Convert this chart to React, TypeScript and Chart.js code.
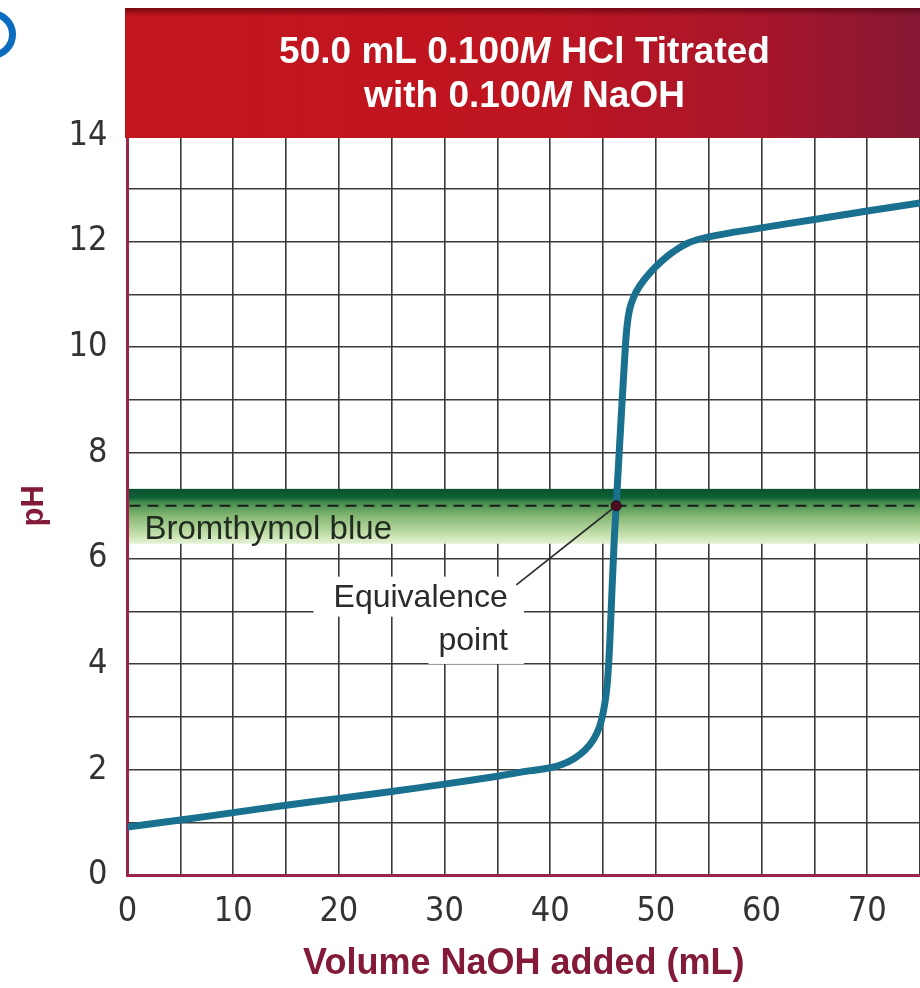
import React, { useEffect, useRef } from "react";
import { Chart, registerables } from "chart.js";

Chart.register(...registerables);

// ---------- data ----------
const volumeML = [0, 5, 10, 15, 20, 25, 30, 35, 38, 40, 41.1, 42.24, 43.28, 44.09, 44.66, 45.03, 45.29, 45.46, 45.58, 45.69, 46.05, 46.25, 46.55, 47.1, 47.25, 47.5, 47.9, 48.5, 49.4, 50.5, 51.6, 53, 55, 60, 65, 70, 75];
const pHValues = [0.92, 1.05, 1.19, 1.33, 1.46, 1.59, 1.73, 1.88, 1.98, 2.04, 2.1, 2.21, 2.37, 2.57, 2.81, 3.1, 3.42, 3.78, 4.17, 4.64, 6.3, 7.0, 8.07, 9.96, 10.35, 10.7, 10.95, 11.17, 11.4, 11.62, 11.8, 11.97, 12.09, 12.26, 12.42, 12.58, 12.73];

const xTickLabels = [0, 10, 20, 30, 40, 50, 60, 70];
const yTickLabels = [0, 2, 4, 6, 8, 10, 12, 14];

const titleLine1 = ["50.0 mL 0.100", "M", " HCl Titrated"];
const titleLine2 = ["with 0.100", "M", " NaOH"];
const xAxisTitle = "Volume NaOH added (mL)";
const yAxisTitle = "pH";

const indicatorName = "Bromthymol blue";
const indicatorRange = [6.28, 7.32];
const equivalenceLabel = ["Equivalence", "point"];
const equivalencePoint = [46.25, 7.0];

// ---------- styling ----------
const SANS = '"Liberation Sans", Arial, sans-serif';
const NARROW = '"Liberation Sans Narrow", "DejaVu Sans Condensed", sans-serif';
const MAROON = "#821a38";
const GRID = "#3a3a3a";

function drawMixed(ctx: CanvasRenderingContext2D, parts: string[], base: string, italic: string, cx: number, y: number) {
  let total = 0;
  parts.forEach((p, i) => {
    ctx.font = i === 1 ? italic : base;
    total += ctx.measureText(p).width;
  });
  let x = cx - total / 2;
  parts.forEach((p, i) => {
    ctx.font = i === 1 ? italic : base;
    ctx.fillText(p, x, y);
    x += ctx.measureText(p).width;
  });
}

const decorPlugin = {
  id: "decor",
  beforeDatasetsDraw(chart: any) {
    const { ctx, chartArea: a, scales } = chart;
    const x = scales.x;
    const y = scales.y;
    ctx.save();
    // indicator band
    const yTop = y.getPixelForValue(indicatorRange[1]);
    const yBot = y.getPixelForValue(indicatorRange[0]);
    const g = ctx.createLinearGradient(0, yTop, 0, yBot);
    g.addColorStop(0, "#0a5230");
    g.addColorStop(0.16, "#0d5f34");
    g.addColorStop(0.24, "#3f8a4c");
    g.addColorStop(0.5, "#86b874");
    g.addColorStop(0.85, "#c9e2b0");
    g.addColorStop(1, "#e6f2d8");
    ctx.fillStyle = g;
    ctx.fillRect(a.left + 1.5, yTop, a.right - a.left, yBot - yTop);

    // dashed pH 7 line
    const y7 = y.getPixelForValue(equivalencePoint[1]);
    ctx.strokeStyle = "#1a1a1a";
    ctx.lineWidth = 2;
    ctx.setLineDash([11, 7]);
    ctx.beginPath();
    ctx.moveTo(a.left + 2, y7);
    ctx.lineTo(a.right, y7);
    ctx.stroke();
    ctx.setLineDash([]);

    // indicator label
    ctx.font = "33px " + SANS;
    ctx.fillStyle = "#1e2b1e";
    ctx.textAlign = "left";
    ctx.textBaseline = "alphabetic";
    ctx.fillText(indicatorName, x.getPixelForValue(1.6), y.getPixelForValue(6.37));

    // equivalence label with white boxes
    ctx.font = "32px " + SANS;
    const rx = x.getPixelForValue(36.0);
    const b1 = y.getPixelForValue(5.09);
    const b2 = y.getPixelForValue(4.27);
    const w1 = ctx.measureText(equivalenceLabel[0]).width;
    const w2 = ctx.measureText(equivalenceLabel[1]).width;
    ctx.fillStyle = "#ffffff";
    ctx.fillRect(rx - w1 - 20, b1 - 30, w1 + 36, 40);
    ctx.fillRect(rx - w2 - 10, b1 + 8, w2 + 26, b2 - b1 + 6);
    ctx.fillStyle = "#2a2a2a";
    ctx.textAlign = "right";
    ctx.fillText(equivalenceLabel[0], rx, b1);
    ctx.fillText(equivalenceLabel[1], rx, b2);

    // leader line
    ctx.strokeStyle = "#2a2a2a";
    ctx.lineWidth = 1.6;
    ctx.beginPath();
    ctx.moveTo(x.getPixelForValue(36.8), y.getPixelForValue(5.5));
    ctx.lineTo(x.getPixelForValue(equivalencePoint[0]), y7);
    ctx.stroke();
    ctx.restore();
  },
  afterDraw(chart: any) {
    const { ctx, chartArea: a, width } = chart;
    ctx.save();
    // banner
    const left = a.left - 2.5;
    const top = 8;
    const bottom = a.top + 2;
    const g = ctx.createLinearGradient(left, 0, width, 0);
    g.addColorStop(0, "#c2161e");
    g.addColorStop(0.5, "#bf1520");
    g.addColorStop(0.8, "#a8162b");
    g.addColorStop(1, "#861834");
    ctx.fillStyle = g;
    ctx.fillRect(left, top, width - left, bottom - top);
    const gv = ctx.createLinearGradient(0, top, 0, top + 8);
    gv.addColorStop(0, "rgba(70,0,10,0.6)");
    gv.addColorStop(1, "rgba(70,0,10,0)");
    ctx.fillStyle = gv;
    ctx.fillRect(left, top, width - left, 8);

    ctx.fillStyle = "#ffffff";
    ctx.textBaseline = "alphabetic";
    ctx.textAlign = "left";
    const cx = (left + width) / 2 + 2;
    const base = "bold 37px " + SANS;
    const ital = "italic bold 37px " + SANS;
    drawMixed(ctx, titleLine1, base, ital, cx, 63);
    drawMixed(ctx, titleLine2, base, ital, cx, 107);

    // figure marker (partially visible ring)
    ctx.strokeStyle = "#0b6cc0";
    ctx.lineWidth = 7;
    ctx.beginPath();
    ctx.arc(-8.5, 34.5, 21, 0, Math.PI * 2);
    ctx.stroke();
    ctx.restore();
  },
};

export default function App() {
  const ref = useRef<HTMLCanvasElement | null>(null);

  useEffect(() => {
    if (!ref.current) return;
    const curve = volumeML.map((v, i) => ({ x: v, y: pHValues[i] }));
    const chart = new Chart(ref.current, {
      type: "line",
      data: {
        datasets: [
          {
            data: [{ x: equivalencePoint[0], y: equivalencePoint[1] }],
            showLine: false,
            pointRadius: 5,
            pointHoverRadius: 5,
            pointBackgroundColor: "#4a0f22",
            pointBorderColor: "#2a0812",
            pointBorderWidth: 1,
            order: 0,
          },
          {
            data: curve,
            borderColor: "#19708f",
            borderWidth: 7,
            pointRadius: 0,
            pointHoverRadius: 0,
            tension: 0.4,
            fill: false,
            order: 1,
          },
        ],
      },
      options: {
        animation: false,
        responsive: false,
        devicePixelRatio: 1,
        layout: { autoPadding: false, padding: { top: 136, left: 0, right: 0, bottom: 0 } },
        plugins: {
          legend: { display: false },
          tooltip: { enabled: false },
          title: { display: false },
        },
        scales: {
          x: {
            type: "linear",
            min: 0,
            max: 75,
            afterFit: (s: any) => {
              s.height = 112.5;
              s.paddingLeft = 0;
              s.paddingRight = 0;
            },
            grid: { color: GRID, lineWidth: 1.6, drawTicks: false },
            border: { color: "#9b2548", width: 3 },
            ticks: {
              stepSize: 5,
              autoSkip: false,
              maxRotation: 0,
              padding: 16,
              color: "#333333",
              font: { family: NARROW, size: 34 },
              callback: (v: any) => (xTickLabels.includes(Number(v)) ? String(v) : ""),
            },
            title: {
              display: true,
              text: xAxisTitle,
              color: MAROON,
              font: { family: SANS, size: 36, weight: "bold" },
              padding: { top: 0, bottom: 2 },
            },
          },
          y: {
            type: "linear",
            min: 0,
            max: 14,
            afterFit: (s: any) => {
              s.width = 127.5;
              s.paddingTop = 0;
              s.paddingBottom = 0;
            },
            grid: { color: GRID, lineWidth: 1.6, drawTicks: false },
            border: { color: "#9b2548", width: 3 },
            ticks: {
              stepSize: 1,
              autoSkip: false,
              padding: 20,
              color: "#333333",
              font: { family: NARROW, size: 34 },
              callback: (v: any) => (yTickLabels.includes(Number(v)) ? String(v) : ""),
            },
            title: {
              display: true,
              text: yAxisTitle,
              color: MAROON,
              font: { family: SANS, size: 31, weight: "bold" },
              padding: { top: 16, bottom: 0 },
            },
          },
        },
      },
      plugins: [decorPlugin],
    });
    return () => chart.destroy();
  }, []);

  return (
    <div style={{ position: "absolute", left: 0, top: 0, width: 920, height: 988, background: "#ffffff" }}>
      <canvas ref={ref} width={920} height={988} />
    </div>
  );
}
